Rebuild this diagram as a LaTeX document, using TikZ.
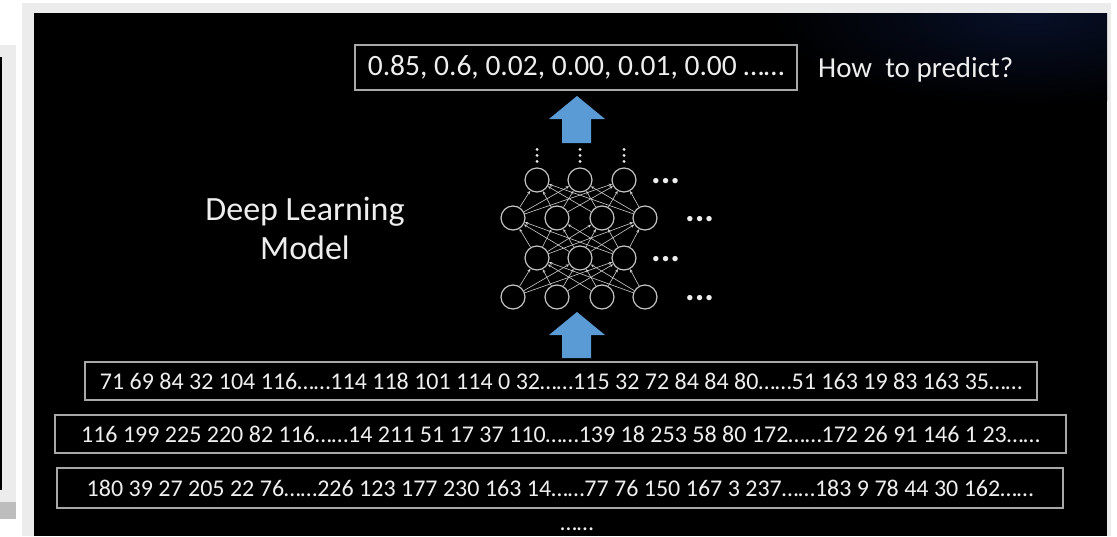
\documentclass[tikz,border=0pt]{standalone}
\usepackage{fontspec}
\setmainfont{Carlito}
\usetikzlibrary{arrows.meta}
\definecolor{framegray}{HTML}{ECECEC}
\definecolor{shadowgray}{HTML}{BDBDBD}
\definecolor{boxline}{HTML}{A8A8A8}
\definecolor{txt}{HTML}{EEEEEE}
\definecolor{arrowblue}{HTML}{5B9BD5}
\definecolor{nightblue}{HTML}{081028}
\definecolor{neuronline}{HTML}{C4C4C4}
\begin{document}
\begin{tikzpicture}[x=1pt,y=-1pt,
  numbox/.style={draw=boxline, line width=1.3pt, text=txt, inner sep=0pt,
    font=\fontsize{24}{28}\selectfont},
  outbox/.style={draw=boxline, line width=1.3pt, text=txt, inner sep=0pt,
    font=\fontsize{29.5}{32}\selectfont},
  neuron/.style={circle, draw=neuronline, line width=1.2pt, minimum size=24pt, inner sep=0pt},
  link/.style={draw=neuronline!85, line width=0.6pt, -{Stealth[length=3.5pt,width=3pt]}},
  label/.style={text=txt, inner sep=0pt},
  more/.style={text=txt, inner sep=0pt, anchor=base west, font=\fontsize{36}{40}\selectfont\bfseries},
  blockarrow/.style={fill=arrowblue}]

% page and frames
\fill[white] (0,0) rectangle (1117,536);
\useasboundingbox (0,0) rectangle (1117,536);
\fill[framegray] (0,45) rectangle (16,502);
\fill[black] (0,57) rectangle (2,490);
\fill[shadowgray] (0,502) rectangle (16,519);
\fill[framegray] (22,3) rectangle (1111,536);
\fill[black] (34,13) rectangle (1107,536);
\begin{scope}
  \clip (34,13) rectangle (1107,536);
  \shade[inner color=nightblue, outer color=black] (1030,15) ellipse (260 and 90);
\end{scope}

% output vector
\node[outbox, minimum width=442pt, minimum height=45pt] (out) at (576,67.5)
  {0.85, 0.6, 0.02, 0.00, 0.01, 0.00 ……};
\node[label, anchor=base west, font=\fontsize{29}{32}\selectfont] (ask) at (818,77)
  {How\ \ to predict?};

% model title
\node[label, anchor=base, font=\fontsize{34}{38}\selectfont] (dl1) at (305,220) {Deep Learning};
\node[label, anchor=base, font=\fontsize{34}{38}\selectfont] (dl2) at (305,259) {Model};

% network layers
\foreach \i/\x in {1/537,2/580,3/624} {
  \node[neuron] (a\i) at (\x,180) {};
  \node[neuron] (c\i) at (\x,258) {};
}
\foreach \i/\x in {1/513,2/557,3/602,4/645} {
  \node[neuron] (b\i) at (\x,218) {};
  \node[neuron] (d\i) at (\x,297) {};
}
\foreach \l in {1,2,3,4} \foreach \u in {1,2,3} {
  \draw[link] (d\l) -- (c\u);
  \draw[link] (b\l) -- (a\u);
}
\foreach \l in {1,2,3} \foreach \u in {1,2,3,4} {
  \draw[link] (c\l) -- (b\u);
}
% continuation dots above the top layer
\foreach \i in {1,2,3} \foreach \s in {6,12,18} {
  \fill[txt] ([yshift=\s pt]a\i.north) circle (1.6);
}
\node[more] (m1) at (651,183) {...};
\node[more] (m2) at (685,221) {...};
\node[more] (m3) at (651,261) {...};
\node[more] (m4) at (685,300) {...};

% block arrows
\fill[blockarrow] (577,96) -- (605,119) -- (591,119) -- (591,143) -- (562,143) -- (562,119) -- (549,119) -- cycle;
\fill[blockarrow] (577,312) -- (605,335) -- (591,335) -- (591,358) -- (562,358) -- (562,335) -- (549,335) -- cycle;

% input byte rows
\node[numbox, minimum width=952pt, minimum height=38pt] (in1) at (561,381)
  {71 69 84 32 104 116……114 118 101 114 0 32……115 32 72 84 84 80……51 163 19 83 163 35……};
\node[numbox, minimum width=1011pt, minimum height=38pt] (in2) at (560.5,434)
  {116 199 225 220 82 116……14 211 51 17 37 110……139 18 253 58 80 172……172 26 91 146 1 23……};
\node[numbox, minimum width=1006pt, minimum height=40pt] (in3) at (560,488)
  {180 39 27 205 22 76……226 123 177 230 163 14……77 76 150 167 3 237……183 9 78 44 30 162……};
\node[label, anchor=base, font=\fontsize{24}{28}\selectfont] (rest) at (577,530) {……};
\end{tikzpicture}
\end{document}
